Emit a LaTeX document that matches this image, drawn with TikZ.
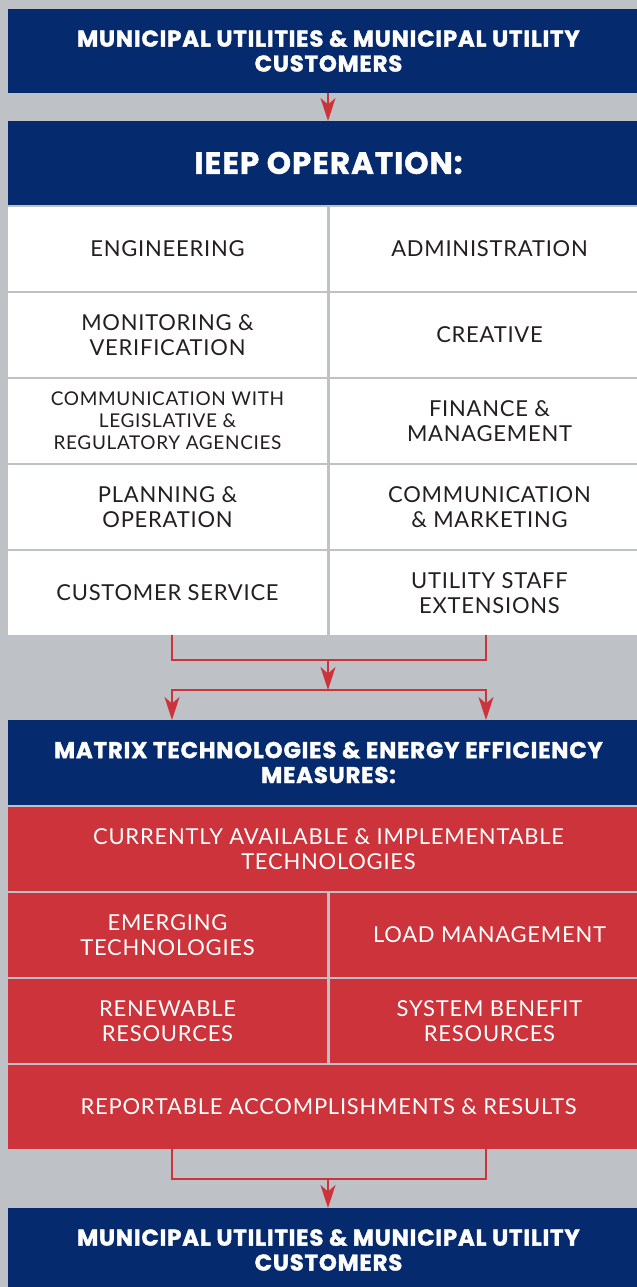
\documentclass[tikz,border=0pt]{standalone}
\usepackage{fontspec}
\setmainfont{Lato}[LetterSpace=3.5]
\newfontfamily\headfont{Poppins}[LetterSpace=3.5, BoldFeatures={FakeBold=1.5, LetterSpace=3.5}]
\usetikzlibrary{positioning, arrows.meta}

\definecolor{navy}{HTML}{062A6E}
\definecolor{ieepred}{HTML}{CC333A}
\definecolor{panel}{HTML}{BEC1C5}
\definecolor{ink}{HTML}{231F20}

\begin{document}
\begin{tikzpicture}[
	every node/.style={inner sep=0pt, outer sep=0pt, align=center},
	hdr/.style={fill=navy, text=white, minimum width=12.82cm, minimum height=1.68cm,
		font=\headfont\bfseries\fontsize{13}{14.2}\selectfont},
	cell/.style={fill=white, text=ink, minimum height=1.68cm,
		font=\fontsize{12.5}{14.2}\selectfont},
	lcell/.style={cell, minimum width=6.38cm},
	rcell/.style={cell, minimum width=6.38cm},
	redcell/.style={cell, fill=ieepred, text=white},
	lred/.style={redcell, minimum width=6.38cm},
	rred/.style={redcell, minimum width=6.38cm},
	wred/.style={redcell, minimum width=12.82cm},
	link/.style={draw=ieepred, line width=0.85pt},
	flow/.style={link, -{Stealth[length=0.46cm, width=0.3cm, inset=0.13cm]}}
]
	\fill[panel] (0,0) rectangle (12.74,-25.74);
	\useasboundingbox (0,0) rectangle (12.74,-25.74);

	% top and IEEP operation
	\node[hdr, anchor=north west] (top) at (0.16,-0.18) {MUNICIPAL UTILITIES \& MUNICIPAL UTILITY\\CUSTOMERS};
	\node[hdr, below=0.56cm of top, font=\headfont\bfseries\fontsize{17.5}{19}\selectfont] (ieep) {IEEP OPERATION:};

	\node[lcell, below right=0.04cm and 0cm of ieep.south west] (eng) {ENGINEERING};
	\node[rcell, right=0.06cm of eng] (adm) {ADMINISTRATION};
	\node[lcell, below=0.04cm of eng] (mv) {MONITORING \&\\VERIFICATION};
	\node[rcell, below=0.04cm of adm] (cre) {CREATIVE};
	\node[lcell, below=0.04cm of mv, font=\fontsize{10.8}{12.6}\selectfont] (leg) {COMMUNICATION WITH\\LEGISLATIVE \&\\REGULATORY AGENCIES};
	\node[rcell, below=0.04cm of cre] (fin) {FINANCE \&\\MANAGEMENT};
	\node[lcell, below=0.04cm of leg] (plan) {PLANNING \&\\OPERATION};
	\node[rcell, below=0.04cm of fin] (mkt) {COMMUNICATION\\\& MARKETING};
	\node[lcell, below=0.04cm of plan] (cs) {CUSTOMER SERVICE};
	\node[rcell, below=0.04cm of mkt] (us) {UTILITY STAFF\\EXTENSIONS};

	% matrix
	\node[hdr, below right=1.70cm and 0cm of cs.south west, minimum height=1.70cm] (mx) {MATRIX TECHNOLOGIES \& ENERGY EFFICIENCY\\MEASURES:};
	\node[wred, below=0.04cm of mx] (cur) {CURRENTLY AVAILABLE \& IMPLEMENTABLE\\TECHNOLOGIES};
	\node[lred, below right=0.04cm and 0cm of cur.south west] (emg) {EMERGING\\TECHNOLOGIES};
	\node[rred, right=0.06cm of emg] (load) {LOAD MANAGEMENT};
	\node[lred, below=0.04cm of emg] (ren) {RENEWABLE\\RESOURCES};
	\node[rred, below=0.04cm of load] (sbr) {SYSTEM BENEFIT\\RESOURCES};
	\node[wred, below right=0.04cm and 0cm of ren.south west] (rep) {REPORTABLE ACCOMPLISHMENTS \& RESULTS};

	\node[hdr, below=1.18cm of rep] (btm) {MUNICIPAL UTILITIES \& MUNICIPAL UTILITY\\CUSTOMERS};

	% connectors
	\coordinate (legL) at ([xshift=0.09cm]cs.south);
	\coordinate (legR) at ([xshift=-0.07cm]us.south);
	\coordinate (fork) at (6.56,-13.20);
	\coordinate (split) at (6.56,-13.80);
	\coordinate (join) at (6.56,-23.58);

	\draw[flow] (fork |- top.south) -- (fork |- ieep.north);
	\draw[link] (legL) |- (fork) -| (legR);
	\draw[flow] (fork) -- (split);
	\draw[flow] (split) -| (legL |- mx.north);
	\draw[flow] (split) -| (legR |- mx.north);
	\draw[link] (legL |- rep.south) |- (join) -| (legR |- rep.south);
	\draw[flow] (join) -- (join |- btm.north);
\end{tikzpicture}
\end{document}
